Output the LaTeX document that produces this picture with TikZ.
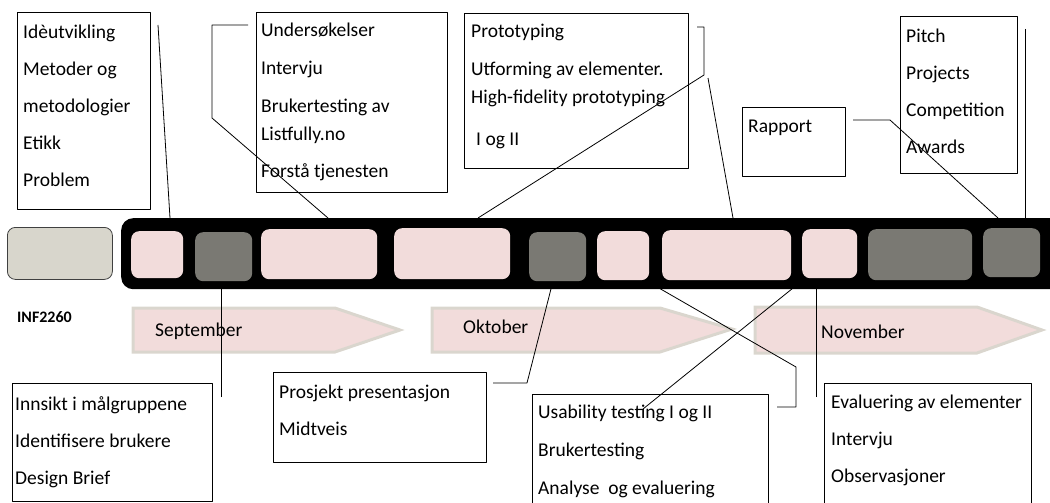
\documentclass[tikz,border=0pt]{standalone}
\usepackage{fontspec}
\setmainfont{Carlito}
\definecolor{cellpink}{HTML}{F2DCDB}
\definecolor{celldark}{HTML}{7A7973}
\definecolor{startgrey}{HTML}{D8D6CC}
\definecolor{chevronedge}{HTML}{DAD6CE}
\begin{document}
\begin{tikzpicture}[x=1pt,y=-1pt,line join=bevel,
    listbox/.style={rectangle,draw,line width=0.9pt,anchor=north west,inner sep=0pt},
    itemtext/.style={anchor=north west,inner sep=0pt,align=left,font=\fontsize{19.5}{37}\selectfont},
    cell/.style={rectangle,rounded corners=8pt,anchor=north west,inner sep=0pt},
    link/.style={color=black,line width=0.8pt},
    chevron/.style={draw=chevronedge,line width=3pt,fill=cellpink,line join=miter},
    monthtext/.style={anchor=base west,inner sep=0pt,font=\fontsize{19.5}{23}\selectfont}]
        \useasboundingbox (0,0) rectangle (1050,503);
        \clip (0,0) rectangle (1050,503);
        %
        \draw[chevron] (133,308) -- (335,308) -- (400,330) -- (335,352) -- (133,352) -- cycle;
        \draw[chevron] (432,308) -- (660,308) -- (732,329) -- (660,352) -- (432,352) -- cycle;
        \draw[chevron] (755,307) -- (977,307) -- (1042,330) -- (977,353) -- (755,353) -- cycle;
        \node[monthtext] (september) at (155,336) {September};
        \node[monthtext] (oktober) at (463,333) {Oktober};
        \node[monthtext] (november) at (821,338) {November};
        \node[anchor=base west,inner sep=0pt,font=\bfseries\fontsize{16}{19}\selectfont] (course) at (17,322) {INF2260};
        %
        \node[listbox,minimum width=133pt,minimum height=197pt] (ideabox) at (17,12) {};
        \node[itemtext] (ideatext) at (23,24.4) {Idèutvikling\\Metoder og\\metodologier\\Etikk\\Problem};
        \node[listbox,minimum width=191pt,minimum height=180pt] (surveybox) at (256,12) {};
        \node[itemtext] (surveytext) at (261,22.4) {Undersøkelser\\[1pt]Intervju\\[1pt]Brukertesting av\\[-9pt]Listfully.no\\Forstå tjenesten};
        \node[listbox,minimum width=224pt,minimum height=155pt] (protobox) at (464,13) {};
        \node[itemtext] (prototext) at (471,23.4) {Prototyping\\[1pt]Utforming av elementer.\\[-9pt]High-fidelity prototyping\\[5pt]\hspace*{5pt}I og II};
        \node[listbox,minimum width=103pt,minimum height=69pt] (reportbox) at (742,107) {};
        \node[itemtext] (reporttext) at (748,119.4) {Rapport};
        \node[listbox,minimum width=117pt,minimum height=157pt] (pitchbox) at (900,16) {};
        \node[itemtext] (pitchtext) at (906,28.4) {Pitch\\Projects\\Competition\\Awards};
        \node[listbox,minimum width=200pt,minimum height=118pt] (insightbox) at (12,383) {};
        \node[itemtext] (insighttext) at (15,396.4) {Innsikt i målgruppene\\Identifisere brukere\\Design Brief};
        \node[listbox,minimum width=213pt,minimum height=90pt] (midtermbox) at (273,372) {};
        \node[itemtext] (midtermtext) at (279,384.4) {Prosjekt presentasjon\\Midtveis};
        \node[listbox,minimum width=236pt,minimum height=115pt] (usabilitybox) at (532,394) {};
        \node[itemtext] (usabilitytext) at (538,404.4) {Usability testing I og II\\[1pt]Brukertesting\\[1pt]Analyse\ \ og evaluering};
        \node[listbox,minimum width=207pt,minimum height=125pt] (evalbox) at (824,383) {};
        \node[itemtext] (evaltext) at (831,394.4) {Evaluering av elementer\\Intervju\\Observasjoner};
        %
        \coordinate (ideafoot) at (158,25);   \coordinate (ideaend) at (170,218);
        \coordinate (surveyfoot) at (248,25); \coordinate (surveybend) at (212,25);
        \coordinate (surveyknee) at (212,118); \coordinate (surveyend) at (328,218);
        \coordinate (protofoot) at (697,27);  \coordinate (protobend) at (704,27);
        \coordinate (protoknee) at (704,75);  \coordinate (protoend) at (478,218);
        \coordinate (protofork) at (708,78);  \coordinate (protoright) at (733,218);
        \coordinate (reportfoot) at (853,120); \coordinate (reportbend) at (890,120);
        \coordinate (reportend) at (998,218);
        \coordinate (pitchfoot) at (1025,29); \coordinate (pitchend) at (1025,218);
        \coordinate (insightfoot) at (221,397); \coordinate (insightend) at (221,281);
        \coordinate (midtermfoot) at (493,383); \coordinate (midtermbend) at (527,383);
        \coordinate (midtermend) at (553,281);
        \coordinate (usabilityfoot) at (643,409); \coordinate (usabilityend) at (803,280);
        \coordinate (testfoot) at (777,407); \coordinate (testbend) at (796,407);
        \coordinate (testknee) at (796,367); \coordinate (testend) at (645,280);
        \coordinate (evalfoot) at (816,397); \coordinate (evalend) at (816,280);
        %
        \draw[link] (ideafoot) -- (ideaend);
        \draw[link] (surveyfoot) -- (surveybend) -- (surveyknee) -- (surveyend);
        \draw[link] (protofoot) -- (protobend) -- (protoknee) -- (protoend);
        \draw[link] (protofork) -- (protoright);
        \draw[link] (reportfoot) -- (reportbend) -- (reportend);
        \draw[link] (pitchfoot) -- (pitchend);
        \draw[link] (insightfoot) -- (insightend);
        \draw[link] (midtermfoot) -- (midtermbend) -- (midtermend);
        \draw[link] (usabilityfoot) -- (usabilityend);
        \draw[link] (testfoot) -- (testbend) -- (testknee) -- (testend);
        \draw[link] (evalfoot) -- (evalend);
        %
        \node[cell,rounded corners=12pt,fill=black,minimum width=960pt,minimum height=71pt] (bar) at (121,218) {};
        \node[cell,draw=black!75,line width=0.8pt,fill=startgrey,minimum width=105pt,minimum height=52pt] (start) at (7,227) {};
        \node[cell,fill=cellpink,minimum width=52pt,minimum height=47pt] (cell1) at (131,231) {};
        \node[cell,fill=celldark,minimum width=57pt,minimum height=49pt] (cell2) at (195,232) {};
        \node[cell,fill=cellpink,minimum width=116pt,minimum height=50pt] (cell3) at (261,229) {};
        \node[cell,fill=cellpink,minimum width=116pt,minimum height=51pt] (cell4) at (394,228) {};
        \node[cell,fill=celldark,minimum width=57pt,minimum height=49pt] (cell5) at (529,232) {};
        \node[cell,fill=cellpink,minimum width=52pt,minimum height=49pt] (cell6) at (597,231) {};
        \node[cell,fill=cellpink,minimum width=129pt,minimum height=50pt] (cell7) at (662,230) {};
        \node[cell,fill=cellpink,minimum width=55pt,minimum height=49pt] (cell8) at (802,229) {};
        \node[cell,fill=celldark,minimum width=104pt,minimum height=51pt] (cell9) at (868,229) {};
        \node[cell,fill=celldark,minimum width=57pt,minimum height=49pt] (cell10) at (983,228) {};
        %
\end{tikzpicture}
\end{document}
